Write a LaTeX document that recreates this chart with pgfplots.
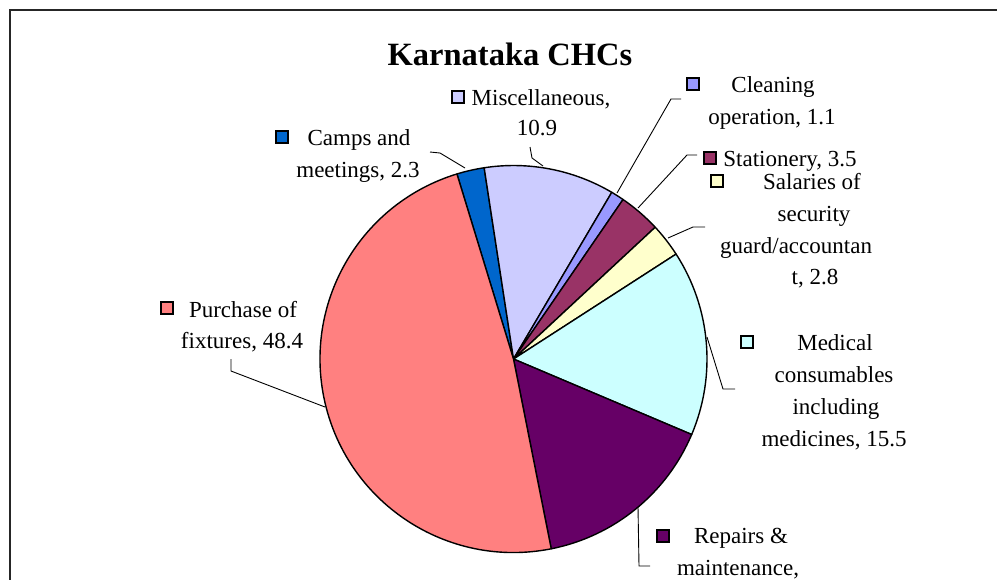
\documentclass[border=0pt]{standalone}
\usepackage{pgfplots}
\usepackage{pgfplotstable}
\pgfplotsset{compat=1.18}
\usepackage{fontspec}
\setmainfont{Liberation Serif}
\definecolor{slice0}{RGB}{0,102,204}
\definecolor{slice1}{RGB}{204,204,255}
\definecolor{slice2}{RGB}{153,153,255}
\definecolor{slice3}{RGB}{153,51,102}
\definecolor{slice4}{RGB}{255,255,204}
\definecolor{slice5}{RGB}{204,255,255}
\definecolor{slice6}{RGB}{102,0,102}
\definecolor{slice7}{RGB}{255,128,128}
\pgfplotstableread{
idx value
0 2.3
1 10.9
2 1.1
3 3.5
4 2.8
5 15.5
6 15.5
7 48.4
}\piedata
\newcommand\lbl{\fontsize{23bp}{32bp}\selectfont}
\begin{document}
\def\cum{107}%
\foreach \i in {0,...,7}{%
  \pgfplotstablegetelem{\i}{value}\of\piedata
  \pgfmathsetmacro\endang{\cum-3.6*\pgfplotsretval}%
  \expandafter\xdef\csname sa\i\endcsname{\cum}%
  \expandafter\xdef\csname ea\i\endcsname{\endang}%
  \xdef\cum{\endang}%
}%
\begin{tikzpicture}
\begin{axis}[
  hide axis, scale only axis, width=997bp, height=579bp,
  xmin=0, xmax=997, ymin=0, ymax=579, y dir=reverse,
  anchor=south west, at={(0,0)}
]
\coordinate (LL) at (axis cs:0,579);
\coordinate (UR) at (axis cs:997,0);
% frame
\draw[line width=1.3bp, black!85] (axis cs:10,590) -- (axis cs:10,10) -- (axis cs:1000,10);
% slices
\pgfplotsinvokeforeach{0,...,7}{
  \filldraw[fill=slice#1, draw=black, line width=1.4bp, line join=round]
    (axis cs:513.5,359) -- ++(\csname sa#1\endcsname:193.5bp)
    arc[start angle=\csname sa#1\endcsname, end angle=\csname ea#1\endcsname, radius=193.5bp] -- cycle;
}
% title
\node[anchor=base, font=\fontsize{32.5bp}{38bp}\selectfont\bfseries] at (axis cs:510,65) {Karnataka CHCs};
% leader lines
\begin{scope}[line width=0.9bp]
\draw (axis cs:430,152) -- (axis cs:440,153) -- (axis cs:465,168);
\draw (axis cs:530,147) -- (axis cs:532,158) -- (axis cs:543,166);
\draw (axis cs:681,99) -- (axis cs:671,99) -- (axis cs:617,193);
\draw (axis cs:697,155) -- (axis cs:687,155) -- (axis cs:638,208);
\draw (axis cs:705,227) -- (axis cs:693,227) -- (axis cs:668,238);
\draw (axis cs:707,337) -- (axis cs:723,389) -- (axis cs:735,389);
\draw (axis cs:638,507) -- (axis cs:639,566) -- (axis cs:650,566);
\draw (axis cs:231,359) -- (axis cs:231,371) -- (axis cs:325,407);
\end{scope}
% legend keys
\begin{scope}[line width=1.3bp]
\draw[fill=slice0] (axis cs:276,131) rectangle (axis cs:288,143);
\draw[fill=slice1] (axis cs:452,91) rectangle (axis cs:464,103);
\draw[fill=slice2] (axis cs:687,78) rectangle (axis cs:699,90);
\draw[fill=slice3] (axis cs:704,152) rectangle (axis cs:716,164);
\draw[fill=slice4] (axis cs:711,175) rectangle (axis cs:723,187);
\draw[fill=slice5] (axis cs:741,336) rectangle (axis cs:753,348);
\draw[fill=slice6] (axis cs:657,530) rectangle (axis cs:669,542);
\draw[fill=slice7] (axis cs:161,302) rectangle (axis cs:173,314);
\end{scope}
% labels
\begin{scope}[every node/.style={anchor=base, inner sep=0pt, font=\lbl}]
\node at (axis cs:359,145) {Camps and};
\node at (axis cs:358,177) {meetings, 2.3};
\node at (axis cs:541,105) {Miscellaneous,};
\node at (axis cs:537,135) {10.9};
\node at (axis cs:773,92) {Cleaning};
\node at (axis cs:772,124) {operation, 1.1};
\node at (axis cs:790,166) {Stationery, 3.5};
\node at (axis cs:812,189) {Salaries of};
\node at (axis cs:814,221) {security};
\node at (axis cs:796,253) {guard/accountan};
\node at (axis cs:815,284) {t, 2.8};
\node at (axis cs:835,350) {Medical};
\node at (axis cs:834,382) {consumables};
\node at (axis cs:836,414) {including};
\node at (axis cs:834,446) {medicines, 15.5};
\node at (axis cs:741,543) {Repairs \&};
\node at (axis cs:738,575) {maintenance,};
\node at (axis cs:243,317) {Purchase of};
\node at (axis cs:242,348) {fixtures, 48.4};
\end{scope}
\end{axis}
\pgfresetboundingbox
\path[use as bounding box] (LL) rectangle (UR);
\end{tikzpicture}
\end{document}
